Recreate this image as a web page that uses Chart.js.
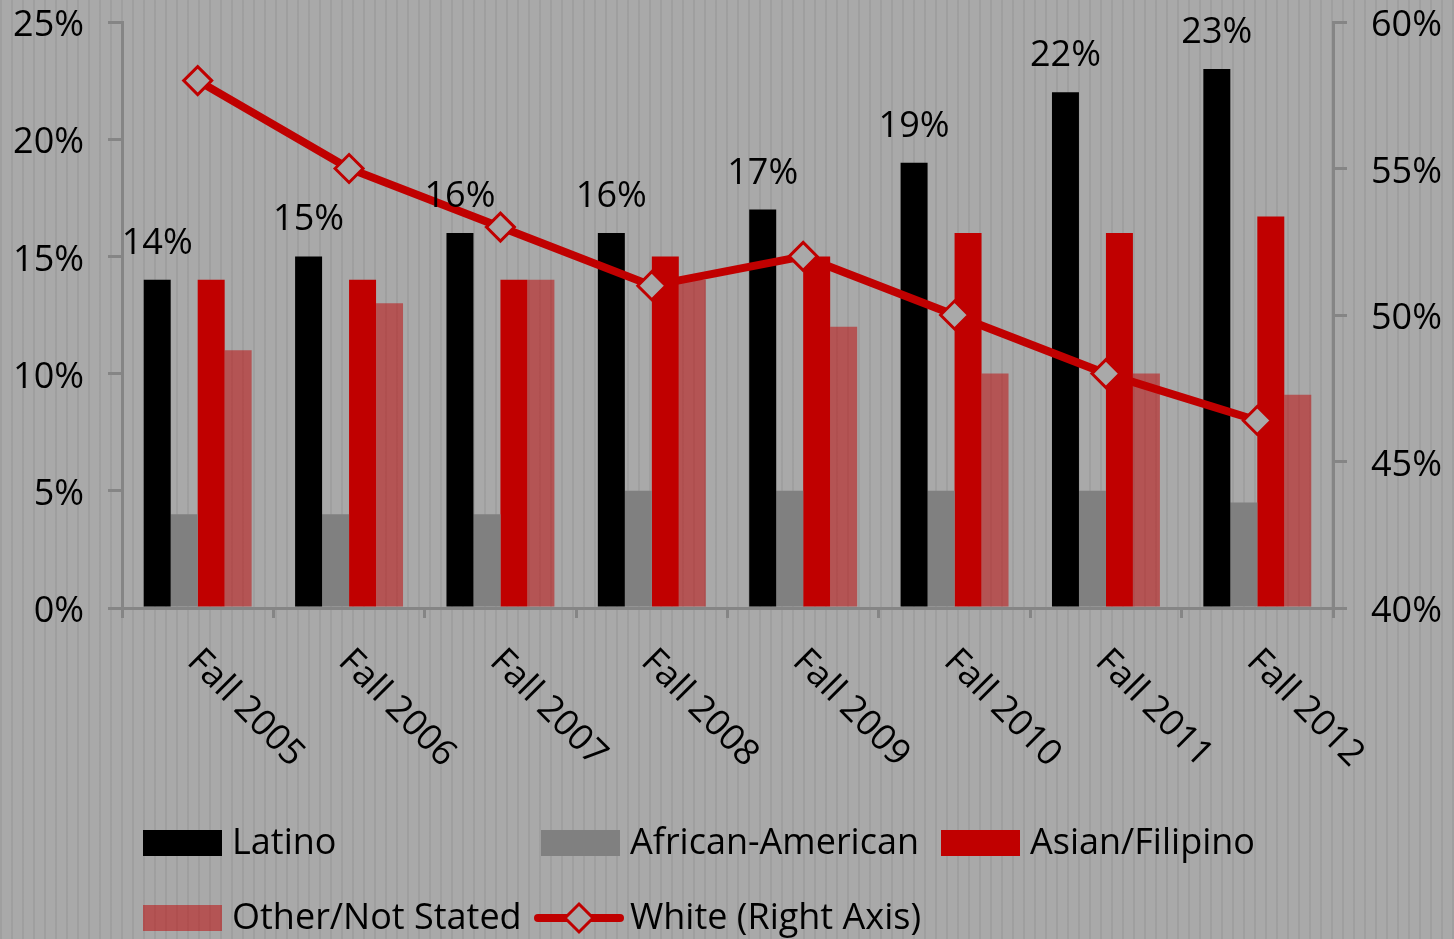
<!DOCTYPE html>
<html>
<head>
<meta charset="utf-8">
<title>Enrollment by ethnicity, Fall 2005 - Fall 2012</title>
<script src="https://cdn.jsdelivr.net/npm/chart.js@4.4.1/dist/chart.umd.min.js"></script>
<style>
  html, body { margin: 0; padding: 0; }
  body {
    width: 1454px;
    height: 939px;
    overflow: hidden;
    background-color: #a9a9a9;
    background-image: repeating-linear-gradient(90deg, rgba(0, 0, 0, 0.06) 0 2px, transparent 2px 11px);
  }
  #wrap { position: relative; width: 1454px; height: 939px; }
</style>
</head>
<body>
<div id="wrap"><canvas id="chart"></canvas></div>
<script>
// Chart data
const terms = ['Fall 2005', 'Fall 2006', 'Fall 2007', 'Fall 2008', 'Fall 2009', 'Fall 2010', 'Fall 2011', 'Fall 2012'];
const latino = [14, 15, 16, 16, 17, 19, 22, 23];
const africanAmerican = [4, 4, 4, 5, 5, 5, 5, 4.5];
const asianFilipino = [14, 14, 14, 15, 15, 16, 16, 16.7];
const otherNotStated = [11, 13, 14, 14, 12, 10, 10, 9.1];
const white = [58, 55, 53, 51, 52, 50, 48, 46.4];

const FONT_FAMILY = '"Open Sans", sans-serif';
const FONT_SIZE = 36;
const FONT = FONT_SIZE + 'px ' + FONT_FAMILY;
const AXIS_GRAY = '#858585';
const RED = '#c00000';

Chart.defaults.font.family = FONT_FAMILY;
Chart.defaults.color = '#000';

// Value labels above the Latino bars
const latinoLabels = {
    id: 'latinoLabels',
    afterDatasetsDraw(chart) {
        const ctx = chart.ctx;
        const meta = chart.getDatasetMeta(0);
        ctx.save();
        ctx.font = FONT;
        ctx.fillStyle = '#000';
        ctx.textAlign = 'center';
        ctx.textBaseline = 'alphabetic';
        meta.data.forEach((bar, i) => {
            ctx.fillText(latino[i] + '%', bar.x, bar.y - 26);
        });
        ctx.restore();
    }
};

// Category labels slanted down to the right
const slantedLabels = {
    id: 'slantedLabels',
    afterDraw(chart) {
        const xScale = chart.scales.x;
        const ctx = chart.ctx;
        ctx.save();
        ctx.font = FONT;
        ctx.fillStyle = '#000';
        ctx.textAlign = 'left';
        ctx.textBaseline = 'top';
        terms.forEach((term, i) => {
            ctx.save();
            ctx.translate(xScale.getPixelForValue(i) + 8, xScale.top + 35);
            ctx.rotate(Math.PI / 4);
            ctx.fillText(term, 0, 0);
            ctx.restore();
        });
        ctx.restore();
    }
};

// Legend laid out in columns like the original
const legendSlots = [[143, 843], [541, 843], [941, 843], [143, 918], [541, 918]];
const columnLegend = {
    id: 'columnLegend',
    afterDraw(chart) {
        const ctx = chart.ctx;
        ctx.save();
        ctx.font = FONT;
        ctx.textBaseline = 'middle';
        ctx.textAlign = 'left';
        chart.data.datasets.forEach((ds, i) => {
            const [x, y] = legendSlots[i];
            if (ds.type === 'line') {
                ctx.strokeStyle = ds.borderColor;
                ctx.lineWidth = 8;
                ctx.lineCap = 'round';
                ctx.beginPath();
                ctx.moveTo(x - 3, y);
                ctx.lineTo(x + 79, y);
                ctx.stroke();
                ctx.fillStyle = ds.pointBackgroundColor;
                ctx.lineWidth = 3;
                ctx.beginPath();
                ctx.moveTo(x + 38, y - 14);
                ctx.lineTo(x + 52, y);
                ctx.lineTo(x + 38, y + 14);
                ctx.lineTo(x + 24, y);
                ctx.closePath();
                ctx.fill();
                ctx.stroke();
            } else {
                ctx.fillStyle = ds.backgroundColor;
                ctx.fillRect(x, y - 13, 79, 26);
            }
            ctx.fillStyle = '#000';
            ctx.fillText(ds.label, x + 89, y + 1);
        });
        ctx.restore();
    }
};

const barCommon = {
    type: 'bar',
    yAxisID: 'y',
    order: 1,
    categoryPercentage: 0.713,
    barPercentage: 1.0,
    borderWidth: 0
};

// Fixed axis box sizes so the plot area lines up with the original
function fitVertical(width) {
    return s => {
        s.width = width;
        s.paddingTop = 0;
        s.paddingBottom = 0;
    };
}

new Chart(document.getElementById('chart'), {
    data: {
        labels: terms,
        datasets: [
            { ...barCommon, label: 'Latino', data: latino, backgroundColor: '#000000' },
            { ...barCommon, label: 'African-American', data: africanAmerican, backgroundColor: '#808080' },
            { ...barCommon, label: 'Asian/Filipino', data: asianFilipino, backgroundColor: RED },
            { ...barCommon, label: 'Other/Not Stated', data: otherNotStated, backgroundColor: 'rgba(192, 0, 0, 0.5)' },
            {
                type: 'line',
                label: 'White (Right Axis)',
                data: white,
                yAxisID: 'y2',
                order: 0,
                borderColor: RED,
                borderWidth: 8,
                pointStyle: 'rectRot',
                pointRadius: 14,
                pointBorderWidth: 3,
                pointBorderColor: RED,
                pointBackgroundColor: '#a9a9a9',
                tension: 0
            }
        ]
    },
    options: {
        responsive: true,
        maintainAspectRatio: false,
        animation: false,
        layout: { padding: { top: 22, left: 0, right: 0, bottom: 0 } },
        plugins: {
            legend: { display: false },
            tooltip: { enabled: false }
        },
        scales: {
            x: {
                offset: true,
                ticks: { display: false },
                grid: {
                    offset: true,
                    drawOnChartArea: false,
                    drawTicks: true,
                    tickLength: 10,
                    color: AXIS_GRAY,
                    lineWidth: 3
                },
                border: { display: true, color: AXIS_GRAY, width: 3 },
                afterFit: s => { s.height = 331; }
            },
            y: {
                position: 'left',
                min: 0,
                max: 25,
                ticks: {
                    stepSize: 5,
                    padding: 24,
                    labelOffset: 4,
                    font: { size: FONT_SIZE },
                    color: '#000',
                    callback: v => v + '%'
                },
                grid: {
                    drawOnChartArea: false,
                    tickLength: 14,
                    color: AXIS_GRAY,
                    lineWidth: 3
                },
                border: { display: true, color: AXIS_GRAY, width: 3 },
                afterFit: fitVertical(122)
            },
            y2: {
                position: 'right',
                min: 40,
                max: 60,
                ticks: {
                    stepSize: 5,
                    padding: 24,
                    labelOffset: 4,
                    font: { size: FONT_SIZE },
                    color: '#000',
                    callback: v => v + '%'
                },
                grid: {
                    drawOnChartArea: false,
                    tickLength: 14,
                    color: AXIS_GRAY,
                    lineWidth: 3
                },
                border: { display: true, color: AXIS_GRAY, width: 3 },
                afterFit: fitVertical(121)
            }
        }
    },
    plugins: [latinoLabels, slantedLabels, columnLegend]
});
</script>
</body>
</html>
